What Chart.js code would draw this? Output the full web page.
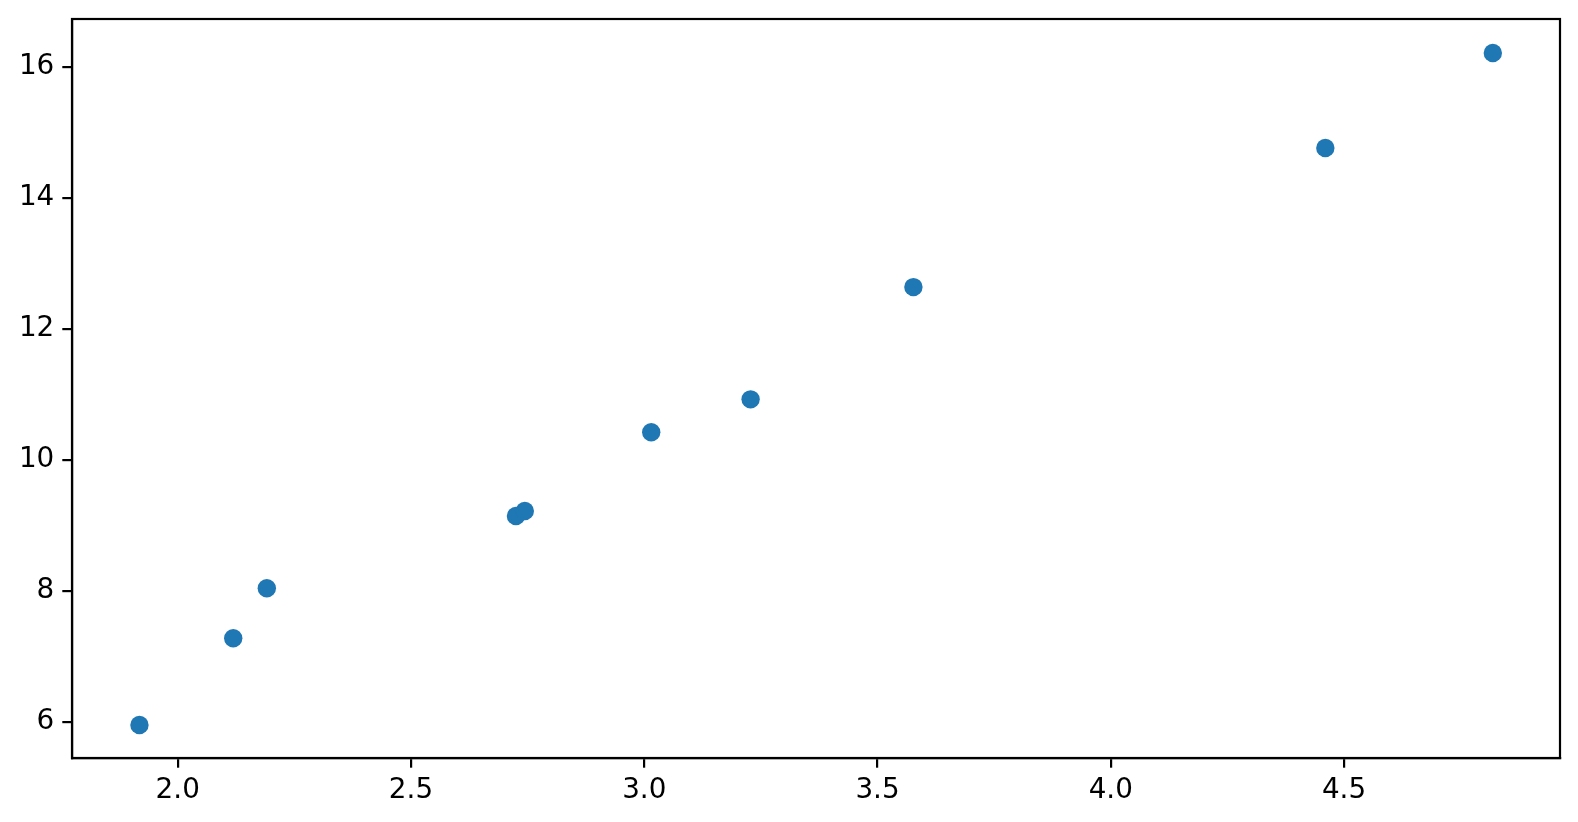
<!DOCTYPE html>
<html>
<head>
<meta charset="utf-8">
<script src="https://cdn.jsdelivr.net/npm/chart.js@4"></script>
<style>
html,body{margin:0;padding:0;background:#fff;}
#wrap{width:1578px;height:822px;position:relative;}
</style>
</head>
<body>
<div id="wrap"><canvas id="c" width="1578" height="822"></canvas></div>
<script>
const xValues = [1.918, 2.119, 2.191, 2.725, 2.744, 3.015, 3.228, 3.577, 4.460, 4.819];
const yValues = [5.954, 7.278, 8.041, 9.145, 9.221, 10.423, 10.924, 12.637, 14.759, 16.209];
const xTicks = [2.0, 2.5, 3.0, 3.5, 4.0, 4.5];
const yTicks = [6, 8, 10, 12, 14, 16];

const points = xValues.map((x, i) => ({x: x, y: yValues[i]}));

const frame = {
  id: 'frame',
  afterDraw(chart) {
    const a = chart.chartArea, ctx = chart.ctx;
    ctx.save();
    ctx.strokeStyle = '#000';
    ctx.lineWidth = 2.2;
    ctx.strokeRect(a.left, a.top, a.right - a.left, a.bottom - a.top);
    ctx.restore();
  }
};

const font = {family: 'DejaVu Sans', size: 27.8};

new Chart(document.getElementById('c'), {
  type: 'scatter',
  data: {
    datasets: [{
      data: points,
      backgroundColor: '#1f77b4',
      borderColor: '#1f77b4',
      borderWidth: 0,
      pointRadius: 9.2,
      pointHoverRadius: 9.2
    }]
  },
  options: {
    responsive: false,
    animation: false,
    devicePixelRatio: 1,
    layout: {autoPadding: false, padding: {left: 0, top: 19, right: 18, bottom: 0}},
    plugins: {legend: {display: false}, tooltip: {enabled: false}},
    scales: {
      x: {
        type: 'linear',
        min: 1.7734,
        max: 4.963,
        afterBuildTicks: s => { s.ticks = xTicks.map(v => ({value: v})); },
        afterFit: s => { s.height = 64; s.paddingLeft = 0; s.paddingRight = 0; s.paddingTop = 0; s.paddingBottom = 0; },
        grid: {display: true, drawOnChartArea: false, drawTicks: true, tickLength: 9.7, tickColor: '#000', tickWidth: 2.2, lineWidth: 2.2, color: '#000'},
        border: {display: true, color: '#000', width: 2.2},
        ticks: {color: '#000', font: font, padding: 6, maxRotation: 0, autoSkip: false, callback: v => Number(v).toFixed(1)}
      },
      y: {
        type: 'linear',
        min: 5.451,
        max: 16.728,
        afterBuildTicks: s => { s.ticks = yTicks.map(v => ({value: v})); },
        afterFit: s => { s.width = 72; s.paddingTop = 0; s.paddingBottom = 0; s.paddingLeft = 0; s.paddingRight = 0; },
        grid: {display: true, drawOnChartArea: false, drawTicks: true, tickLength: 9.7, tickColor: '#000', tickWidth: 2.2, lineWidth: 2.2, color: '#000'},
        border: {display: true, color: '#000', width: 2.2},
        ticks: {color: '#000', font: font, padding: 8, autoSkip: false, callback: v => String(v)}
      }
    }
  },
  plugins: [frame]
});
</script>
</body>
</html>
